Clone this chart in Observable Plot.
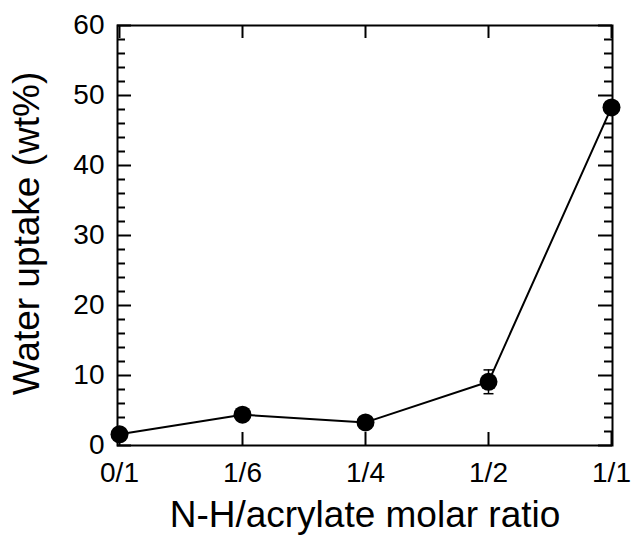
<!DOCTYPE html>
<html>
<head>
<meta charset="utf-8">
<script src="https://cdn.jsdelivr.net/npm/d3@7"></script>
<script src="https://cdn.jsdelivr.net/npm/@observablehq/plot@0.6"></script>
<style>
  html, body { margin: 0; padding: 0; background: #fff; }
  svg { display: block; }
</style>
</head>
<body>
<div id="chart"></div>
<script>
const ratios = ["0/1", "1/6", "1/4", "1/2", "1/1"];
const uptake = [1.6, 4.4, 3.3, 9.1, 48.3];
const errLow = [null, null, null, 7.4, null];
const errHigh = [null, null, null, 10.8, null];
const yMajor = [0, 10, 20, 30, 40, 50, 60];
const yMinor = [2, 4, 6, 8, 12, 14, 16, 18, 22, 24, 26, 28, 32, 34, 36, 38, 42, 44, 46, 48, 52, 54, 56, 58];
const xLabel = "N-H/acrylate molar ratio";
const yLabel = "Water uptake (wt%)";

const data = ratios.map((r, i) => ({ratio: r, value: uptake[i], lo: errLow[i], hi: errHigh[i]}));
const errs = data.filter(d => d.lo != null);

const capSymbol = {
  draw(ctx, size) {
    const w = Math.sqrt(size / Math.PI);
    ctx.moveTo(-w, 0);
    ctx.lineTo(w, 0);
  }
};

const font = "Liberation Sans, Arial, sans-serif";
const W = 631, H = 535, ML = 117, MR = 19, MT = 25, MB = 90;
const PW = W - ML - MR, PH = H - MT - MB;
const majorLen = 14, minorLen = 8, xTickLen = 13;

const chart = Plot.plot({
  width: W,
  height: H,
  marginLeft: ML,
  marginRight: MR,
  marginTop: MT,
  marginBottom: MB,
  style: {fontFamily: font, background: "#fff", color: "#000"},
  x: {type: "point", domain: ratios, padding: 0},
  y: {domain: [0, 60]},
  marks: [
    // tick labels
    Plot.axisY({ticks: yMajor, tickSize: 0, tickPadding: 13, fontSize: 28, label: null}),
    Plot.axisX({ticks: ratios, tickSize: 0, tickPadding: 17, fontSize: 28, label: null}),
    // inward ticks
    Plot.tickY(yMajor, {y: d => d, insetRight: PW - majorLen, stroke: "#000", strokeWidth: 2}),
    Plot.tickY(yMajor, {y: d => d, insetLeft: PW - majorLen, stroke: "#000", strokeWidth: 2}),
    Plot.tickY(yMinor, {y: d => d, insetRight: PW - minorLen, stroke: "#000", strokeWidth: 2}),
    Plot.tickY(yMinor, {y: d => d, insetLeft: PW - minorLen, stroke: "#000", strokeWidth: 2}),
    Plot.tickX(ratios, {x: d => d, insetTop: PH - xTickLen, stroke: "#000", strokeWidth: 2}),
    Plot.tickX(ratios, {x: d => d, insetBottom: PH - xTickLen, stroke: "#000", strokeWidth: 2}),
    Plot.frame({stroke: "#000", strokeWidth: 2}),
    // axis titles
    Plot.text([xLabel], {frameAnchor: "bottom", lineAnchor: "middle", textAnchor: "middle", dy: 70, fontSize: 37, fill: "#000"}),
    Plot.text([yLabel], {frameAnchor: "left", lineAnchor: "middle", textAnchor: "middle", dx: -90, dy: -2, rotate: -90, fontSize: 37, fill: "#000"}),
    // data
    Plot.ruleX(errs, {x: "ratio", y1: "lo", y2: "hi", stroke: "#000", strokeWidth: 1.5}),
    Plot.dot(errs, {x: "ratio", y: "lo", symbol: capSymbol, r: 5, stroke: "#000", strokeWidth: 1.5, fill: "none"}),
    Plot.dot(errs, {x: "ratio", y: "hi", symbol: capSymbol, r: 5, stroke: "#000", strokeWidth: 1.5, fill: "none"}),
    Plot.line(data, {x: "ratio", y: "value", stroke: "#000", strokeWidth: 2}),
    Plot.dot(data, {x: "ratio", y: "value", r: 9, fill: "#000", stroke: "none"})
  ]
});

document.getElementById("chart").appendChild(chart);
</script>
</body>
</html>
